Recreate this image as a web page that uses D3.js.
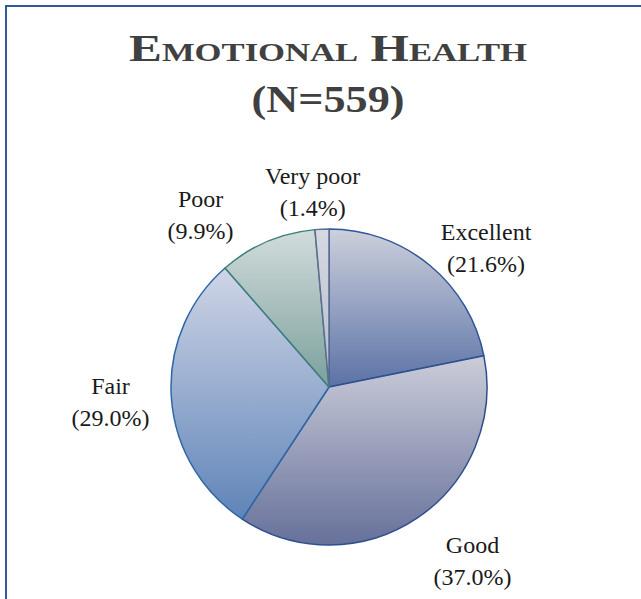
<!DOCTYPE html>
<html lang="en">
  <head>
    <meta charset="UTF-8" />
    <title>Emotional Health</title>
    <script src="https://d3js.org/d3.v7.min.js"></script>
    <style>
      body { margin: 0; background: #fff; }
    </style>
  </head>
  <body>
    <svg width="641" height="599"></svg>
    <script>
      // data
      var categories = ["Excellent", "Good", "Fair", "Poor", "Very poor"];
      var percents = [21.6, 37.0, 29.0, 9.9, 1.4];
      var titleLines = ["Emotional Health", "(N=559)"];

      // look
      var topColors = ["#cdd0dc", "#cbcdd9", "#cfd5e6", "#d2dcdc", "#d6d9e0"];
      var bottomColors = ["#5b72a6", "#66709a", "#5f84b8", "#7ba09c", "#b4bccd"];
      var strokes = ["#2e5597", "#2f4f8f", "#2e67a6", "#3f7f7c", "#5c6e90"];
      // small shifts so labels sit like the original (best fit)
      var labelNudge = [[24, 31], [26, 8], [-9, 9], [-46, 29], [-7, 23]];

      var cx = 329, cy = 387, r = 158, labelR = 210;
      var serif = "'Liberation Serif', 'DejaVu Serif', serif";

      const svg = d3.select("svg");

      // frame
      svg.append("rect")
        .attr("x", 6).attr("y", 6)
        .attr("width", 700).attr("height", 700)
        .attr("fill", "none")
        .attr("stroke", "#2c5a9a")
        .attr("stroke-width", 2);

      // title
      svg.append("text")
        .attr("x", 328).attr("y", 61)
        .attr("text-anchor", "middle")
        .attr("font-family", serif)
        .attr("font-weight", "bold")
        .attr("font-size", 37)
        .attr("font-variant", "small-caps")
        .attr("fill", "#404040")
        .attr("textLength", 398)
        .attr("lengthAdjust", "spacingAndGlyphs")
        .text(titleLines[0]);
      svg.append("text")
        .attr("x", 328).attr("y", 112)
        .attr("text-anchor", "middle")
        .attr("font-family", serif)
        .attr("font-weight", "bold")
        .attr("font-size", 37)
        .attr("fill", "#404040")
        .attr("textLength", 153)
        .attr("lengthAdjust", "spacingAndGlyphs")
        .text(titleLines[1]);

      // gradients
      const defs = svg.append("defs");
      categories.forEach((c, i) => {
        const lg = defs.append("linearGradient")
          .attr("id", "grad" + i)
          .attr("x1", 0).attr("y1", 0).attr("x2", 0).attr("y2", 1);
        lg.append("stop").attr("offset", "0%").attr("stop-color", topColors[i]);
        lg.append("stop").attr("offset", "100%").attr("stop-color", bottomColors[i]);
      });

      const pie = d3.pie().sort(null).value(d => d);
      const arcs = pie(percents);
      const arc = d3.arc().innerRadius(0).outerRadius(r);
      const labelArc = d3.arc().innerRadius(labelR).outerRadius(labelR);

      const g = svg.append("g").attr("transform", `translate(${cx},${cy})`);

      g.selectAll("path")
        .data(arcs)
        .enter()
        .append("path")
        .attr("d", arc)
        .attr("fill", (d, i) => `url(#grad${i})`)
        .attr("stroke", (d, i) => strokes[i])
        .attr("stroke-width", 1.5)
        .attr("stroke-linejoin", "round");

      const labels = g.selectAll("text.lbl")
        .data(arcs)
        .enter()
        .append("text")
        .attr("class", "lbl")
        .attr("text-anchor", "middle")
        .attr("font-family", serif)
        .attr("font-size", 24)
        .attr("fill", "#1a1a1a")
        .attr("transform", (d, i) => {
          const c = labelArc.centroid(d);
          return `translate(${c[0] + labelNudge[i][0]},${c[1] + labelNudge[i][1]})`;
        });
      labels.append("tspan")
        .attr("x", 0).attr("y", -16)
        .text((d, i) => categories[i]);
      labels.append("tspan")
        .attr("x", 0).attr("y", 16)
        .text(d => "(" + d.data.toFixed(1) + "%)");
    </script>
  </body>
</html>
